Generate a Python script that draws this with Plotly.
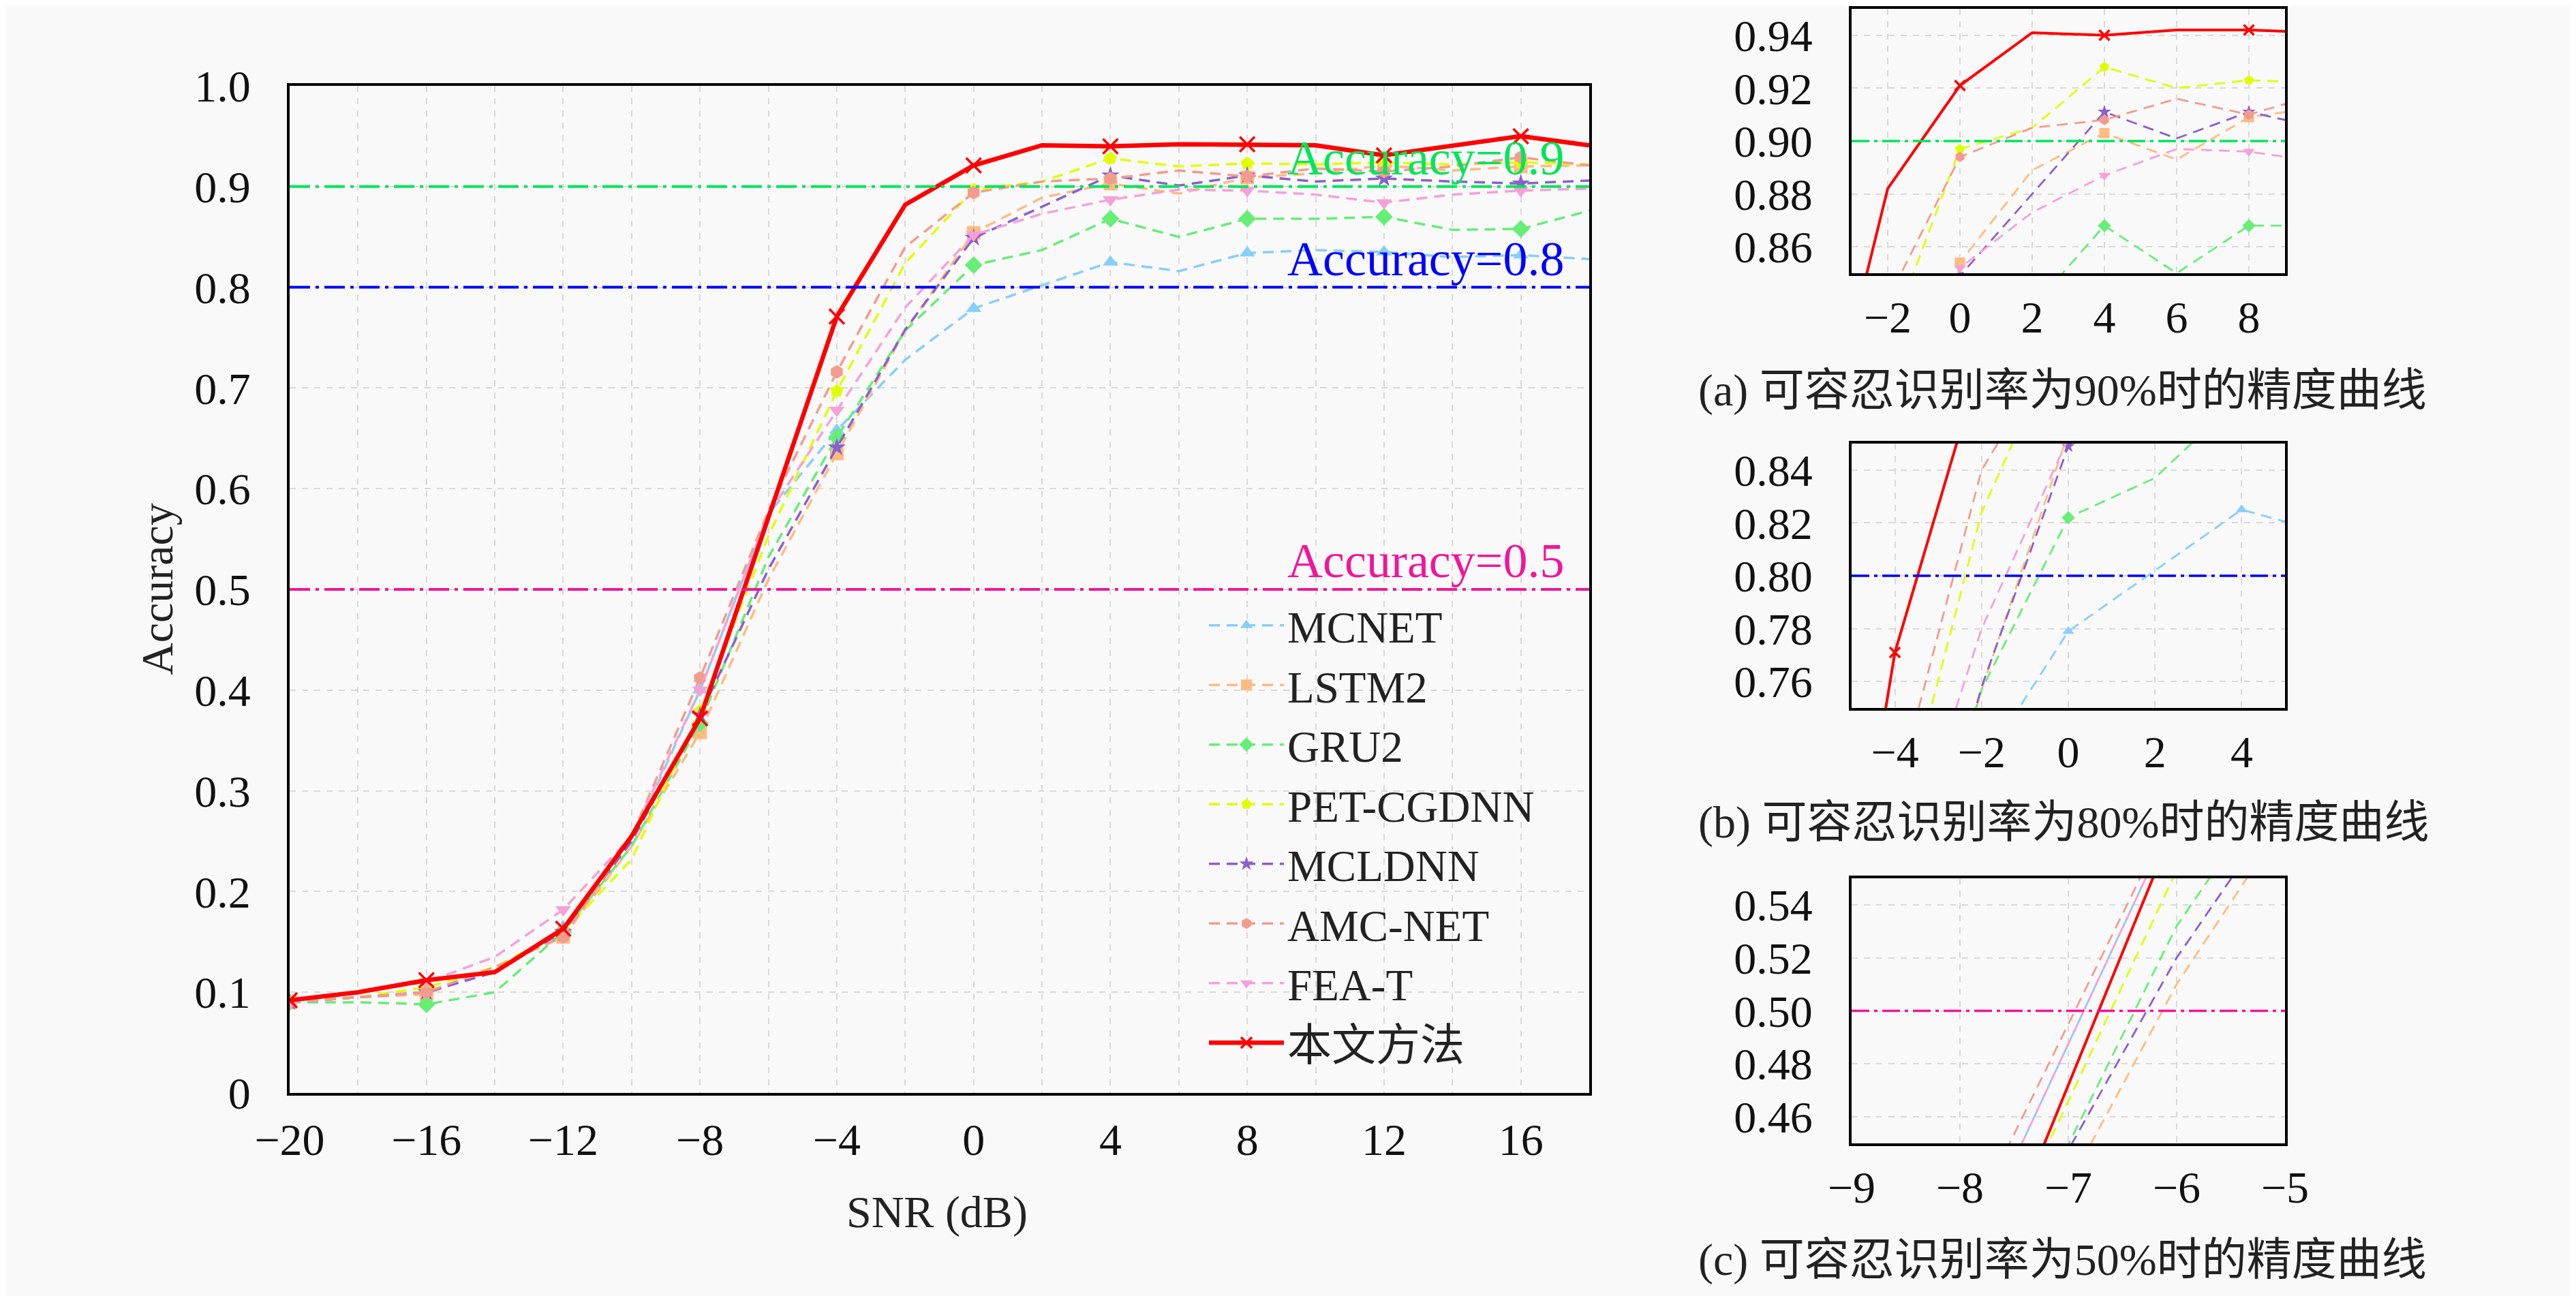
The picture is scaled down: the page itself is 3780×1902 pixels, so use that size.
import plotly.graph_objects as go

# --- data ---
snr = [-20, -18, -16, -14, -12, -10, -8, -6, -4, -2, 0, 2, 4, 6, 8, 10, 12, 14, 16, 18]

mcnet = [0.090, 0.095, 0.100, 0.120, 0.165, 0.250, 0.400, 0.575, 0.658, 0.728,
         0.779, 0.802, 0.825, 0.816, 0.834, 0.837, 0.835, 0.830, 0.832, 0.828]
lstm2 = [0.090, 0.095, 0.098, 0.125, 0.155, 0.245, 0.358, 0.510, 0.635, 0.757,
         0.854, 0.889, 0.903, 0.893, 0.909, 0.913, 0.921, 0.916, 0.920, 0.921]
gru2 = [0.090, 0.090, 0.088, 0.100, 0.160, 0.245, 0.367, 0.532, 0.651, 0.757,
        0.822, 0.837, 0.868, 0.850, 0.868, 0.868, 0.870, 0.857, 0.858, 0.876]
pet_cgdnn = [0.092, 0.095, 0.105, 0.125, 0.160, 0.232, 0.379, 0.553, 0.697, 0.824,
             0.897, 0.905, 0.928, 0.920, 0.923, 0.922, 0.924, 0.922, 0.924, 0.922]
mcldnn = [0.090, 0.095, 0.100, 0.120, 0.160, 0.250, 0.375, 0.520, 0.641, 0.758,
          0.849, 0.880, 0.911, 0.901, 0.911, 0.905, 0.908, 0.905, 0.903, 0.906]
amc_net = [0.090, 0.095, 0.100, 0.125, 0.155, 0.255, 0.412, 0.578, 0.716, 0.840,
           0.894, 0.905, 0.908, 0.916, 0.910, 0.918, 0.915, 0.920, 0.929, 0.921]
fea_t = [0.090, 0.100, 0.110, 0.135, 0.182, 0.255, 0.400, 0.575, 0.678, 0.780,
         0.852, 0.873, 0.887, 0.897, 0.896, 0.892, 0.884, 0.892, 0.896, 0.898]
ours = [0.092, 0.100, 0.112, 0.120, 0.163, 0.255, 0.372, 0.572, 0.771, 0.882,
        0.921, 0.941, 0.940, 0.942, 0.942, 0.941, 0.931, 0.940, 0.950, 0.941]

names = ['MCNET', 'LSTM2', 'GRU2', 'PET-CGDNN', 'MCLDNN', 'AMC-NET', 'FEA-T', '本文方法']
values = [mcnet, lstm2, gru2, pet_cgdnn, mcldnn, amc_net, fea_t, ours]
colors = ['#87CEFA', '#FFBB80', '#66EE77', '#DFFF00', '#8A60CC', '#F39C8E', '#F5A0D8', '#FF0000']
symbols = ['triangle-up', 'square', 'diamond', 'pentagon', 'star', 'hexagon', 'triangle-down', 'x-thin']

thresholds = [0.9, 0.8, 0.5]
threshold_labels = ['Accuracy=0.9', 'Accuracy=0.8', 'Accuracy=0.5']
threshold_colors = ['#00E65A', '#0000FF', '#F0169A']

main_xticks = [-20, -16, -12, -8, -4, 0, 4, 8, 12, 16]
main_yticks = [0, 0.1, 0.2, 0.3, 0.4, 0.5, 0.6, 0.7, 0.8, 0.9, 1.0]
main_ytext = ['0', '0.1', '0.2', '0.3', '0.4', '0.5', '0.6', '0.7', '0.8', '0.9', '1.0']

insets = [
    # (x range, x ticks, y range, y ticks, threshold index, caption)
    ([-3, 9], [-2, 0, 2, 4, 6, 8], [0.85, 0.95], [0.86, 0.88, 0.90, 0.92, 0.94], 0,
     '(a) 可容忍识别率为90%时的精度曲线'),
    ([-5, 5], [-4, -2, 0, 2, 4], [0.75, 0.85], [0.76, 0.78, 0.80, 0.82, 0.84], 1,
     '(b) 可容忍识别率为80%时的精度曲线'),
    ([-9, -5], [-9, -8, -7, -6, -5], [0.45, 0.55], [0.46, 0.48, 0.50, 0.52, 0.54], 2,
     '(c) 可容忍识别率为50%时的精度曲线'),
]

SERIF = 'Liberation Serif, Noto Sans CJK SC, serif'
BG = '#f9f9f9'
GRID = '#d9d9d9'

W, H = 3780, 1902
OFF = 7  # page body margin offset


def px_x(v):
    return (v - OFF) / W


def px_y(v):
    return 1 - (v - OFF) / H


main_dom_x = [px_x(424), px_x(2331)]
main_dom_y = [px_y(1603), px_y(125)]
inset_dom_x = [px_x(2716), px_x(3352)]
inset_dom_y = [[px_y(400), px_y(12)],
               [px_y(1038), px_y(650)],
               [px_y(1677), px_y(1288)]]
caption_y = [px_y(572), px_y(1206), px_y(1848)]

fig = go.Figure()

# every other point carries a marker
marked = list(range(0, len(snr), 2))

axis_pairs = [('x', 'y'), ('x2', 'y2'), ('x3', 'y3'), ('x4', 'y4')]
for k, (xa, ya) in enumerate(axis_pairs):
    main = k == 0
    for name, vals, col, sym in zip(names, values, colors, symbols):
        if name == '本文方法':
            line = dict(color=col, width=6.5 if main else 4)
            marker = dict(symbol=sym, size=22 if main else 15, color=col,
                          line=dict(color=col, width=3.5))
        else:
            line = dict(color=col, width=3.5 if main else 2.8, dash='16px,10px')
            marker = dict(symbol=sym, size=20 if main else 15, color=col,
                          line=dict(width=0))
        fig.add_trace(go.Scatter(
            x=snr, y=vals, name=name, mode='lines+markers',
            line=line, marker=marker,
            selectedpoints=marked,
            selected=dict(marker=dict(opacity=1)),
            unselected=dict(marker=dict(opacity=0)),
            xaxis=xa, yaxis=ya, showlegend=main, legendgroup=name,
        ))

# threshold lines and labels on the main plot
for t, lab, col in zip(thresholds, threshold_labels, threshold_colors):
    fig.add_shape(type='line', xref='x domain', yref='y', x0=0, x1=1, y0=t, y1=t,
                  line=dict(color=col, width=4, dash='30px,8px,5px,8px'), layer='above')
    fig.add_annotation(x=17.3, y=t, xref='x', yref='y', text=lab, showarrow=False,
                       xanchor='right', yanchor='bottom', yshift=0,
                       font=dict(family=SERIF, size=72, color=col))

axis_common = dict(showline=True, linecolor='black', linewidth=4, mirror=True,
                   ticks='', showgrid=True, gridcolor=GRID, gridwidth=2, griddash='dash',
                   zeroline=False, automargin=False,
                   tickfont=dict(family=SERIF, size=66, color='#111'))

layout = dict(
    width=W, height=H,
    paper_bgcolor=BG, plot_bgcolor=BG,
    margin=dict(l=0, r=0, t=0, b=0, pad=0),
    showlegend=True,
    legend=dict(x=px_x(1768), y=px_y(868), xanchor='left', yanchor='top',
                bgcolor='rgba(0,0,0,0)', borderwidth=0,
                font=dict(family=SERIF, size=65, color='#222'),
                itemwidth=110, tracegroupgap=0),
    xaxis=dict(axis_common, domain=main_dom_x, range=[-20, 18],
               tickvals=main_xticks, ticklabelstandoff=8,
               minor=dict(dtick=2, showgrid=True, gridcolor=GRID, gridwidth=2, griddash='dash')),
    yaxis=dict(axis_common, domain=main_dom_y, range=[0, 1.0],
               tickvals=main_yticks, ticktext=main_ytext, ticklabelstandoff=40),
)

for i, (xr, xt, yr, yt, ti, cap) in enumerate(insets):
    n = i + 2
    layout['xaxis%d' % n] = dict(axis_common, domain=inset_dom_x, range=xr, tickvals=xt,
                                 anchor='y%d' % n, ticklabelstandoff=4)
    layout['yaxis%d' % n] = dict(axis_common, domain=inset_dom_y[i], range=yr, tickvals=yt,
                                 ticktext=['%.2f' % v for v in yt],
                                 anchor='x%d' % n, ticklabelstandoff=40)
    fig.add_shape(type='line', xref='x%d domain' % n, yref='y%d' % n, x0=0, x1=1,
                  y0=thresholds[ti], y1=thresholds[ti],
                  line=dict(color=threshold_colors[ti], width=3.5, dash='26px,7px,5px,7px'),
                  layer='above')
    fig.add_annotation(x=px_x(2489), y=caption_y[i], xref='paper', yref='paper', text=cap,
                       showarrow=False, xanchor='left', yanchor='middle',
                       font=dict(family=SERIF, size=66, color='#222'))

# axis titles
fig.add_annotation(x=px_x(1374), y=px_y(1778), xref='paper', yref='paper', text='SNR (dB)',
                   showarrow=False, xanchor='center', yanchor='middle',
                   font=dict(family=SERIF, size=66, color='#222'))
fig.add_annotation(x=px_x(229), y=px_y(864), xref='paper', yref='paper', text='Accuracy',
                   showarrow=False, textangle=-90, xanchor='center', yanchor='middle',
                   font=dict(family=SERIF, size=66, color='#222'))

fig.update_layout(layout)
fig.write_html('out.html')
